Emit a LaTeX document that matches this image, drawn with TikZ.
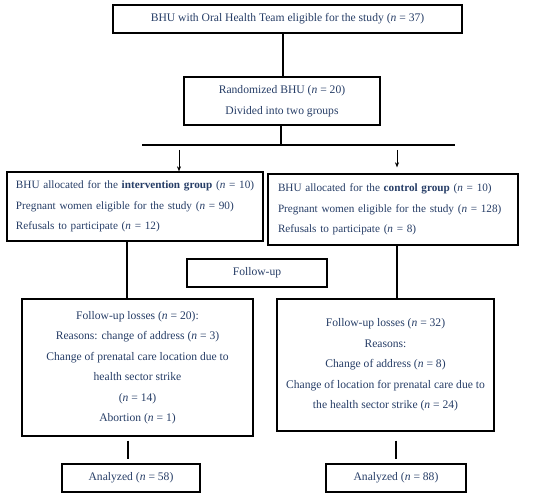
\documentclass[tikz,border=0pt]{standalone}
\usepackage{fontspec}
\setmainfont{Liberation Serif}
\usetikzlibrary{arrows.meta}
\definecolor{flowtext}{HTML}{263D66}
\tikzset{
    box/.style = {draw, line width = 1.4pt, inner sep = 0pt, text = flowtext,
        font = \fontsize{11.6}{20.5}\selectfont},
    groupbox/.style = {box, align = left, font = \fontsize{11.2}{20.5}\selectfont},
    link/.style = {line width = 1.4pt},
    thinarrow/.style = {line width = 0.5pt, -{Stealth[length = 5pt, width = 4pt]}}
}
\begin{document}
\begin{tikzpicture}[x = 1pt, y = -1pt]
        \useasboundingbox (0, 0) rectangle (550, 497);
        % top of the chart
        \node [box, minimum width = 349, minimum height = 28] (eligible) at (287.5, 19)
            {BHU with Oral Health Team eligible for the study (\textit{n} = 37)};
        \node [box, minimum width = 196, minimum height = 48, align = center] (random) at (282, 101)
            {Randomized BHU (\textit{n} = 20)\\Divided into two groups};
        \coordinate (split) at (281, 145);
        \coordinate (splitL) at (142, 145);
        \coordinate (splitR) at (455, 145);
        \coordinate (arrL) at (179, 150);
        \coordinate (arrR) at (397, 150);
        % the two groups
        \node [groupbox, minimum width = 256, minimum height = 69, text width = 238] (grpL) at (135, 206.5)
            {\mbox{BHU allocated for the \textbf{intervention group} (\textit{n} = 10)}\\
             \mbox{Pregnant women eligible for the study (\textit{n} = 90)}\\
             Refusals to participate (\textit{n} = 12)};
        \node [groupbox, minimum width = 250, minimum height = 71, text width = 230] (grpR) at (393, 209.5)
            {\mbox{BHU allocated for the \textbf{control group} (\textit{n} = 10)}\\
             \mbox{Pregnant women eligible for the study (\textit{n} = 128)}\\
             Refusals to participate (\textit{n} = 8)};
        \node [box, minimum width = 140, minimum height = 28] (follow) at (257, 273) {Follow-up};
        % losses
        \node [box, minimum width = 231, minimum height = 137, align = center] (lossL) at (137.5, 367.5)
            {Follow-up losses (\textit{n} = 20):\\
             Reasons: change of address (\textit{n} = 3)\\
             Change of prenatal care location due to\\
             health sector strike\\
             (\textit{n} = 14)\\
             Abortion (\textit{n} = 1)};
        \node [box, minimum width = 217, minimum height = 132, align = center] (lossR) at (385.5, 365)
            {Follow-up losses (\textit{n} = 32)\\
             Reasons:\\
             Change of address (\textit{n} = 8)\\
             Change of location for prenatal care due to\\
             the health sector strike (\textit{n} = 24)};
        \node [box, minimum width = 138, minimum height = 28] (anaL) at (131, 478) {Analyzed (\textit{n} = 58)};
        \node [box, minimum width = 140, minimum height = 28] (anaR) at (396, 478) {Analyzed (\textit{n} = 88)};
        \coordinate (colL) at (127, 0);
        \coordinate (colR) at (397, 0);
        \coordinate (colL2) at (128, 0);
        \coordinate (colR2) at (396, 0);
        % connectors
        \draw [link] (random.north -| 283, 0) -- (eligible.south -| 283, 0);
        \draw [link] (random.south -| split) -- (split);
        \draw [link] (splitL) -- (splitR);
        \draw [thinarrow] (arrL) -- (arrL |- grpL.north);
        \draw [thinarrow, shorten > = 6pt] (arrR) -- (arrR |- grpR.north);
        \draw [link] (grpL.south -| colL) -- (lossL.north -| colL);
        \draw [link] (grpR.south -| colR) -- (lossR.north -| colR);
        \draw [link, shorten < = 4pt, shorten > = 4pt] (lossL.south -| colL2) -- (anaL.north -| colL2);
        \draw [link, shorten < = 9pt, shorten > = 4pt] (lossR.south -| colR2) -- (anaR.north -| colR2);
    \end{tikzpicture}
\end{document}
